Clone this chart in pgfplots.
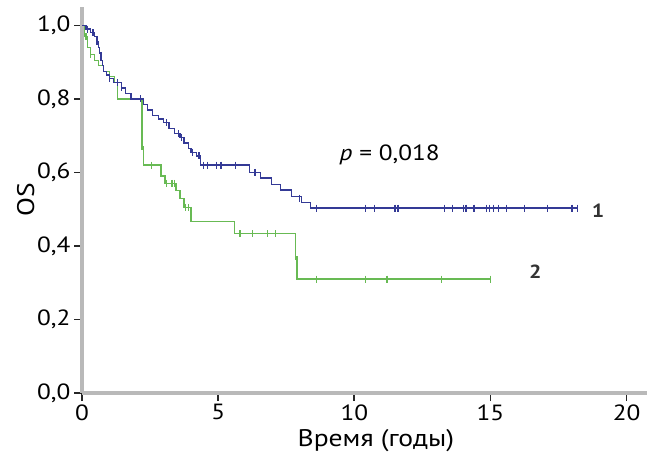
\documentclass[border=0pt]{standalone}
\usepackage{fontspec}
\setmainfont{PT Sans}[FakeStretch=1.15]
\usepackage{pgfplots}
\pgfplotsset{compat=1.18}
\definecolor{kmblue}{RGB}{52,58,150}
\definecolor{kmgreen}{RGB}{104,186,84}
\definecolor{axgray}{RGB}{185,185,185}

\begin{document}
\begin{tikzpicture}
\path[use as bounding box] (0,0) rectangle (647pt,457pt);
\begin{axis}[
    at={(82pt,64pt)}, anchor=south west,
    scale only axis, width=565pt, height=386pt,
    xmin=0, xmax=20.75, ymin=0, ymax=1.05,
    axis x line*=bottom, axis y line*=left,
    x axis line style={-, draw=axgray, line width=4pt},
    y axis line style={-, draw=axgray, line width=4pt},
    xtick={0,5,10,15,20},
    ytick={0,0.2,0.4,0.6,0.8,1},
    tick align=outside,
    major tick length=8pt,
    tick style={black!85, line width=1.6pt},
    /pgf/number format/assume math mode=true,
    y tick label style={/pgf/number format/.cd, fixed, fixed zerofill, precision=1, use comma},
    tick label style={font=\fontsize{22}{26}\selectfont},
    label style={font=\fontsize{24}{28}\selectfont},
    xlabel={Время (годы)},
    ylabel={OS},
    xlabel style={at={(axis description cs:0.52,0)}, anchor=north, yshift=-33pt},
    ylabel style={yshift=-4pt},
    clip=false,
]
% group 2
\addplot[const plot, kmgreen, line width=1.3pt] coordinates {
    (0,1) (0.1,0.97) (0.2,0.94) (0.3,0.92) (0.45,0.905) (0.6,0.89) (0.8,0.875)
    (1.0,0.86) (1.2,0.845) (1.3,0.80) (2.2,0.67) (2.25,0.62) (2.9,0.59) (3.05,0.57)
    (3.45,0.55) (3.6,0.53) (3.75,0.505) (4.0,0.467) (5.6,0.433) (7.85,0.37)
    (7.9,0.31) (15.0,0.31)
};
\addplot[only marks, kmgreen, mark=|, mark size=3.5pt, mark options={line width=1.3pt}] coordinates {
    (0.15,0.97) (0.3,0.92) (2.2,0.67) (2.55,0.62) (3.1,0.57) (3.3,0.57) (3.4,0.57)
    (3.8,0.505) (3.9,0.505) (5.8,0.433) (6.25,0.433) (6.8,0.433) (7.1,0.433)
    (7.85,0.37) (8.6,0.31) (10.4,0.31) (11.2,0.31) (13.2,0.31) (15.0,0.31)
};
% group 1
\addplot[const plot, kmblue, line width=1.3pt] coordinates {
    (0,1) (0.15,0.99) (0.3,0.98) (0.45,0.97) (0.55,0.955) (0.6,0.94) (0.65,0.925)
    (0.7,0.905) (0.75,0.89) (0.8,0.875) (0.9,0.865) (1.0,0.855) (1.15,0.845)
    (1.45,0.83) (1.6,0.815) (1.8,0.80) (2.25,0.785) (2.4,0.77) (2.6,0.755)
    (2.8,0.745) (3.0,0.735) (3.2,0.72) (3.4,0.705) (3.6,0.695) (3.75,0.68)
    (3.9,0.665) (4.0,0.655) (4.2,0.645) (4.35,0.62) (6.15,0.60) (6.55,0.585)
    (6.95,0.568) (7.3,0.552) (7.7,0.535) (8.05,0.518) (8.4,0.503) (18.2,0.503)
};
\addplot[only marks, kmblue, mark=|, mark size=3.5pt, mark options={line width=1.3pt}] coordinates {
    (0.2,0.99) (0.4,0.98) (0.55,0.955) (1.0,0.855) (1.3,0.845) (1.45,0.83)
    (2.15,0.80) (3.1,0.735) (3.55,0.705) (3.65,0.695) (4.05,0.655) (4.3,0.645)
    (4.45,0.62) (4.6,0.62) (4.95,0.62) (5.1,0.62) (5.65,0.62) (6.35,0.60)
    (8.0,0.53) (8.6,0.503) (10.4,0.503) (10.75,0.503) (11.5,0.503) (11.6,0.503)
    (13.3,0.503) (13.6,0.503) (14.0,0.503) (14.1,0.503) (14.4,0.503) (14.85,0.503)
    (14.96,0.503) (15.1,0.503) (15.3,0.503) (15.6,0.503) (16.25,0.503) (17.1,0.503)
    (18.0,0.503) (18.2,0.503)
};
\node[font=\fontsize{22}{26}\selectfont] at (axis cs:11.3,0.647) {\textit{p} = 0,018};
\node[font=\fontsize{19}{22}\selectfont\bfseries, text=black!80] at (axis cs:18.95,0.497) {1};
\node[font=\fontsize{19}{22}\selectfont\bfseries, text=black!80] at (axis cs:16.65,0.33) {2};
\end{axis}
\end{tikzpicture}
\end{document}
